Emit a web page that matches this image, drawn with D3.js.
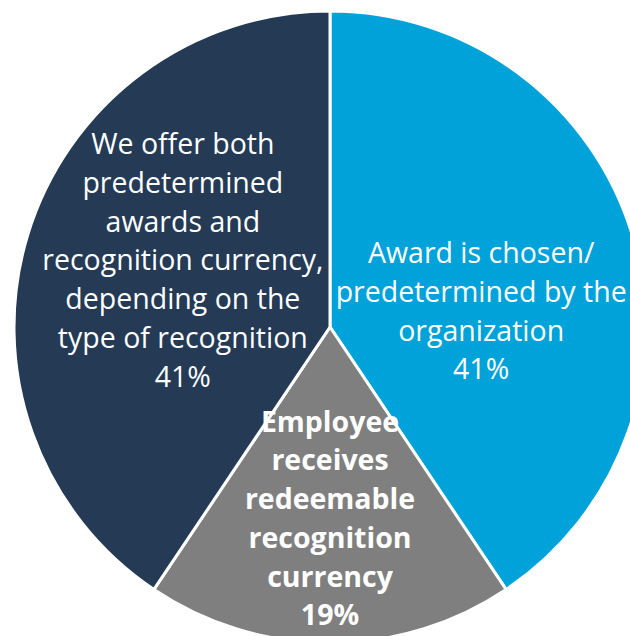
<!DOCTYPE html>
<html>
<head>
<meta charset="utf-8">
<script src="https://cdn.jsdelivr.net/npm/d3@7"></script>
<style>
  html, body { margin: 0; padding: 0; background: #ffffff; }
  svg { display: block; }
</style>
</head>
<body>
<svg id="chart" width="630" height="636"></svg>
<script>
const categories = [
  "Award is chosen/ predetermined by the organization",
  "Employee receives redeemable recognition currency",
  "We offer both predetermined awards and recognition currency, depending on the type of recognition"
];
const labelLines = [
  ["Award is chosen/", "predetermined by the", "organization"],
  ["Employee", "receives", "redeemable", "recognition", "currency"],
  ["We offer both", "predetermined", "awards and", "recognition currency,", "depending on the", "type of recognition"]
];
const values = [41, 19, 41];
const valueLabels = ["41%", "19%", "41%"];
const colors = ["#00A2DA", "#7F7F7F", "#243A55"];

const W = 630, H = 636;
const cx = 330, cy = 327, R = 316;
const lineH = 38.7;
const fontSize = 28.5;
const bold = [false, true, false];
// nudges relative to label-arc centroid
const nudge = [[0, 31], [0, 34], [4, -20]];

const svg = d3.select("#chart");
const g = svg.append("g").attr("transform", `translate(${cx},${cy})`);

const pie = d3.pie().sort(null).value(d => d);
const arcs = pie(values);
const arc = d3.arc().innerRadius(0).outerRadius(R);
const labelArc = d3.arc().innerRadius(0).outerRadius(R);

g.selectAll("path.slice")
  .data(arcs)
  .join("path")
  .attr("class", "slice")
  .attr("d", arc)
  .attr("fill", (d, i) => colors[i])
  .attr("stroke", "#ffffff")
  .attr("stroke-width", 3)
  .attr("stroke-linejoin", "miter");

arcs.forEach((a, i) => {
  const c = labelArc.centroid(a);
  const lines = labelLines[i].concat([valueLabels[i]]);
  const n = lines.length;
  const x = c[0] + nudge[i][0];
  const yMid = c[1] + nudge[i][1];
  const t = g.append("text")
    .attr("text-anchor", "middle")
    .attr("fill", "#ffffff")
    .attr("font-family", "'Open Sans', Lato, sans-serif")
    .attr("font-size", fontSize)
    .attr("font-weight", bold[i] ? "bold" : "normal");
  lines.forEach((ln, k) => {
    t.append("tspan")
      .attr("x", x)
      .attr("y", yMid + (k - (n - 1) / 2) * lineH + 27 * 0.35)
      .text(ln);
  });
});
</script>
</body>
</html>
